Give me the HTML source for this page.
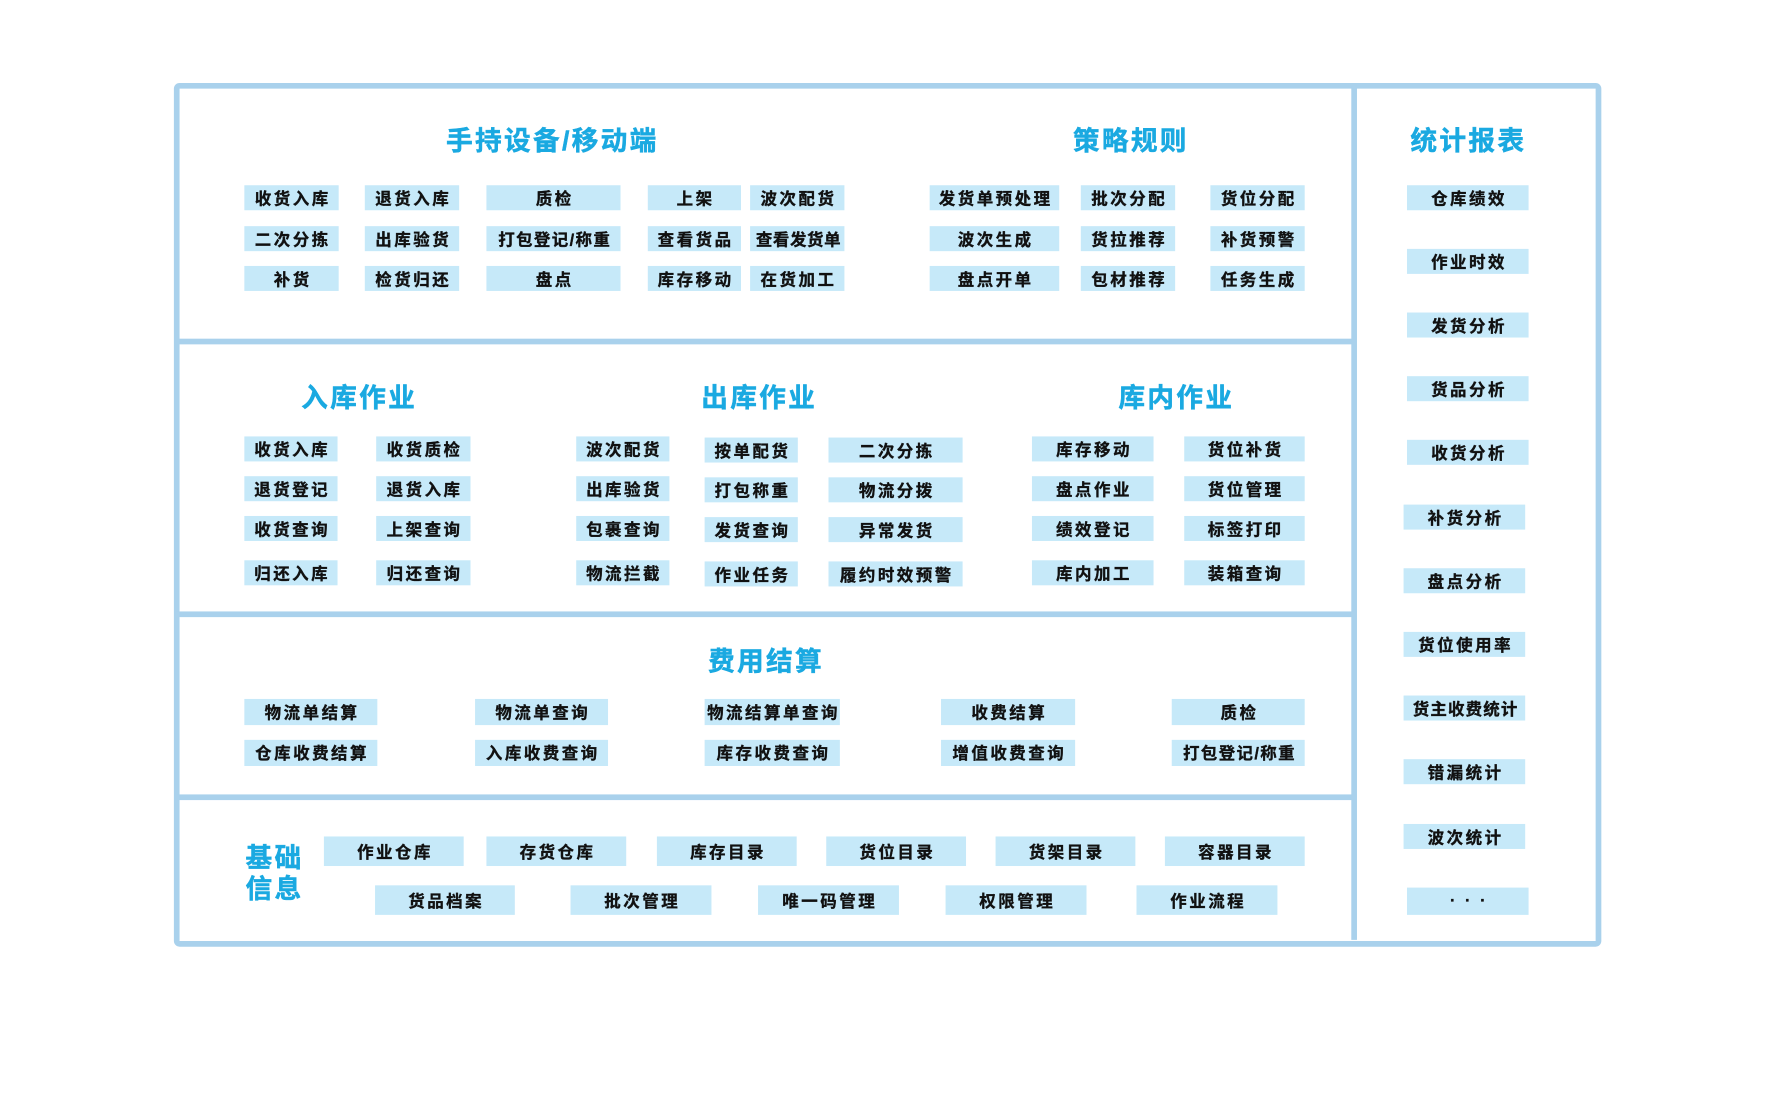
<!DOCTYPE html>
<html><head><meta charset="utf-8"><style>
html,body{margin:0;padding:0;background:#fff;width:1784px;height:1096px;overflow:hidden}
#w{position:absolute;left:0;top:0;width:1570px;height:965px;transform:scale(1.1365);transform-origin:0 0;font-family:"Liberation Sans","Noto Sans CJK SC",sans-serif}
.ln{position:absolute;background:#a9d1ec}
.b{position:absolute;background:#c6e9f9;color:#111;font-weight:700;font-size:14.5px;letter-spacing:2.2px;text-indent:2.2px;display:flex;align-items:center;justify-content:center;white-space:nowrap;-webkit-text-stroke:0.3px #111}
.t{position:absolute;color:#1aa9e1;font-weight:700;font-size:23.5px;letter-spacing:2px;transform:translateX(-50%);white-space:nowrap;line-height:1;-webkit-text-stroke:0.4px #1aa9e1}
</style></head><body><div id="w">
<div style="position:absolute;left:153px;top:73px;width:1246px;height:750px;border:5px solid #a9d1ec;border-radius:5px"></div>
<div class="ln" style="left:1189px;top:75px;width:5px;height:752px"></div>
<div class="ln" style="left:155px;top:298px;width:1036px;height:5px"></div>
<div class="ln" style="left:155px;top:538px;width:1036px;height:5px"></div>
<div class="ln" style="left:155px;top:699px;width:1036px;height:5px"></div>

<div class="t" style="left:486px;top:113px">手持设备/移动端</div>
<div class="t" style="left:995px;top:113px">策略规则</div>
<div class="t" style="left:1292px;top:113px">统计报表</div>
<div class="t" style="left:316px;top:339px">入库作业</div>
<div class="t" style="left:668px;top:339px">出库作业</div>
<div class="t" style="left:1035px;top:339px">库内作业</div>
<div class="t" style="left:674px;top:571px">费用结算</div>
<div class="t" style="top:742px;line-height:27px;transform:none;left:216px;white-space:normal;width:54px">基础<br>信息</div>

<div class="b" style="left:215px;top:163px;width:83px;height:22px">收货入库</div>
<div class="b" style="left:321px;top:163px;width:83px;height:22px">退货入库</div>
<div class="b" style="left:428px;top:163px;width:118px;height:22px">质检</div>
<div class="b" style="left:570px;top:163px;width:82px;height:22px">上架</div>
<div class="b" style="left:660px;top:163px;width:83px;height:22px">波次配货</div>
<div class="b" style="left:215px;top:199px;width:83px;height:22px">二次分拣</div>
<div class="b" style="left:321px;top:199px;width:83px;height:22px">出库验货</div>
<div class="b" style="left:428px;top:199px;width:118px;height:22px;letter-spacing:1.2px">打包登记/称重</div>
<div class="b" style="left:570px;top:199px;width:82px;height:22px">查看货品</div>
<div class="b" style="left:660px;top:199px;width:83px;height:22px;letter-spacing:0.5px">查看发货单</div>
<div class="b" style="left:215px;top:234px;width:83px;height:22px">补货</div>
<div class="b" style="left:321px;top:234px;width:83px;height:22px">检货归还</div>
<div class="b" style="left:428px;top:234px;width:118px;height:22px">盘点</div>
<div class="b" style="left:570px;top:234px;width:82px;height:22px">库存移动</div>
<div class="b" style="left:660px;top:234px;width:83px;height:22px">在货加工</div>

<div class="b" style="left:818px;top:163px;width:114px;height:22px">发货单预处理</div>
<div class="b" style="left:951px;top:163px;width:83px;height:22px">批次分配</div>
<div class="b" style="left:1065px;top:163px;width:83px;height:22px">货位分配</div>
<div class="b" style="left:818px;top:199px;width:114px;height:22px">波次生成</div>
<div class="b" style="left:951px;top:199px;width:83px;height:22px">货拉推荐</div>
<div class="b" style="left:1065px;top:199px;width:83px;height:22px">补货预警</div>
<div class="b" style="left:818px;top:234px;width:114px;height:22px">盘点开单</div>
<div class="b" style="left:951px;top:234px;width:83px;height:22px">包材推荐</div>
<div class="b" style="left:1065px;top:234px;width:83px;height:22px">任务生成</div>

<div class="b" style="left:215px;top:384px;width:82px;height:22px">收货入库</div>
<div class="b" style="left:331px;top:384px;width:83px;height:22px">收货质检</div>
<div class="b" style="left:507px;top:384px;width:82px;height:22px">波次配货</div>
<div class="b" style="left:620px;top:385px;width:82px;height:22px">按单配货</div>
<div class="b" style="left:729px;top:385px;width:118px;height:22px">二次分拣</div>
<div class="b" style="left:908px;top:384px;width:107px;height:22px">库存移动</div>
<div class="b" style="left:1042px;top:384px;width:106px;height:22px">货位补货</div>
<div class="b" style="left:215px;top:419px;width:82px;height:22px">退货登记</div>
<div class="b" style="left:331px;top:419px;width:83px;height:22px">退货入库</div>
<div class="b" style="left:507px;top:419px;width:82px;height:22px">出库验货</div>
<div class="b" style="left:620px;top:420px;width:82px;height:22px">打包称重</div>
<div class="b" style="left:729px;top:420px;width:118px;height:22px">物流分拨</div>
<div class="b" style="left:908px;top:419px;width:107px;height:22px">盘点作业</div>
<div class="b" style="left:1042px;top:419px;width:106px;height:22px">货位管理</div>
<div class="b" style="left:215px;top:454px;width:82px;height:22px">收货查询</div>
<div class="b" style="left:331px;top:454px;width:83px;height:22px">上架查询</div>
<div class="b" style="left:507px;top:454px;width:82px;height:22px">包裹查询</div>
<div class="b" style="left:620px;top:455px;width:82px;height:22px">发货查询</div>
<div class="b" style="left:729px;top:455px;width:118px;height:22px">异常发货</div>
<div class="b" style="left:908px;top:454px;width:107px;height:22px">绩效登记</div>
<div class="b" style="left:1042px;top:454px;width:106px;height:22px">标签打印</div>
<div class="b" style="left:215px;top:493px;width:82px;height:22px">归还入库</div>
<div class="b" style="left:331px;top:493px;width:83px;height:22px">归还查询</div>
<div class="b" style="left:507px;top:493px;width:82px;height:22px">物流拦截</div>
<div class="b" style="left:620px;top:494px;width:82px;height:22px">作业任务</div>
<div class="b" style="left:729px;top:494px;width:118px;height:22px">履约时效预警</div>
<div class="b" style="left:908px;top:493px;width:107px;height:22px">库内加工</div>
<div class="b" style="left:1042px;top:493px;width:106px;height:22px">装箱查询</div>

<div class="b" style="left:215px;top:615px;width:117px;height:23px">物流单结算</div>
<div class="b" style="left:418px;top:615px;width:117px;height:23px">物流单查询</div>
<div class="b" style="left:620px;top:615px;width:119px;height:23px">物流结算单查询</div>
<div class="b" style="left:828px;top:615px;width:118px;height:23px">收费结算</div>
<div class="b" style="left:1031px;top:615px;width:117px;height:23px">质检</div>
<div class="b" style="left:215px;top:651px;width:117px;height:23px">仓库收费结算</div>
<div class="b" style="left:418px;top:651px;width:117px;height:23px">入库收费查询</div>
<div class="b" style="left:620px;top:651px;width:119px;height:23px">库存收费查询</div>
<div class="b" style="left:828px;top:651px;width:118px;height:23px">增值收费查询</div>
<div class="b" style="left:1031px;top:651px;width:117px;height:23px;letter-spacing:1.2px">打包登记/称重</div>

<div class="b" style="left:285px;top:736px;width:123px;height:26px">作业仓库</div>
<div class="b" style="left:428px;top:736px;width:123px;height:26px">存货仓库</div>
<div class="b" style="left:578px;top:736px;width:123px;height:26px">库存目录</div>
<div class="b" style="left:727px;top:736px;width:123px;height:26px">货位目录</div>
<div class="b" style="left:876px;top:736px;width:123px;height:26px">货架目录</div>
<div class="b" style="left:1025px;top:736px;width:123px;height:26px">容器目录</div>
<div class="b" style="left:330px;top:779px;width:123px;height:26px">货品档案</div>
<div class="b" style="left:502px;top:779px;width:124px;height:26px">批次管理</div>
<div class="b" style="left:667px;top:779px;width:124px;height:26px">唯一码管理</div>
<div class="b" style="left:832px;top:779px;width:124px;height:26px">权限管理</div>
<div class="b" style="left:1000px;top:779px;width:124px;height:26px">作业流程</div>

<div class="b" style="left:1238px;top:163px;width:107px;height:22px">仓库绩效</div>
<div class="b" style="left:1238px;top:219px;width:107px;height:22px">作业时效</div>
<div class="b" style="left:1238px;top:275px;width:107px;height:22px">发货分析</div>
<div class="b" style="left:1238px;top:331px;width:107px;height:22px">货品分析</div>
<div class="b" style="left:1238px;top:387px;width:107px;height:22px">收货分析</div>
<div class="b" style="left:1235px;top:444px;width:107px;height:22px">补货分析</div>
<div class="b" style="left:1235px;top:500px;width:107px;height:22px">盘点分析</div>
<div class="b" style="left:1235px;top:556px;width:107px;height:22px">货位使用率</div>
<div class="b" style="left:1235px;top:612px;width:107px;height:22px;letter-spacing:1px">货主收费统计</div>
<div class="b" style="left:1235px;top:668px;width:107px;height:22px">错漏统计</div>
<div class="b" style="left:1235px;top:725px;width:107px;height:22px">波次统计</div>
<div class="b" style="left:1238px;top:781px;width:107px;height:24px">· · ·</div>
</div></body></html>
